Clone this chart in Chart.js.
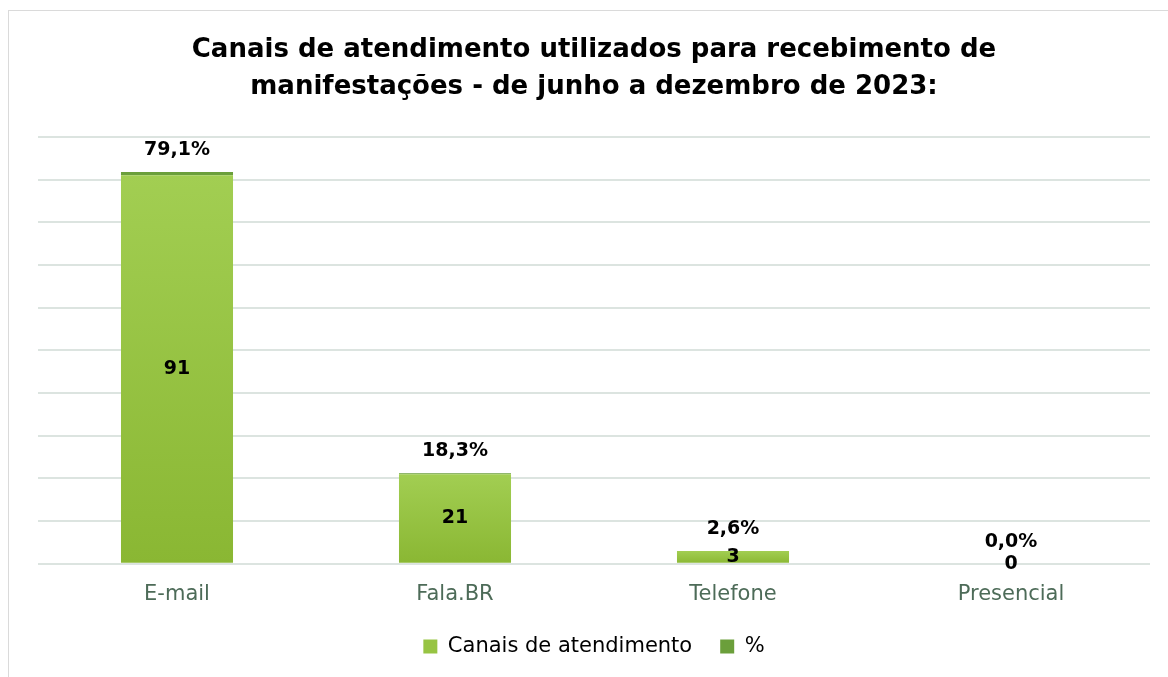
<!DOCTYPE html>
<html>
<head>
<meta charset="utf-8">
<script src="https://cdn.jsdelivr.net/npm/chart.js@4"></script>
<style>
  html, body { margin: 0; padding: 0; background: #fff; overflow: hidden; }
  #wrap { position: relative; width: 1168px; height: 677px; }
  #frame { position: absolute; left: 8px; top: 10px; width: 1200px; height: 700px; border: 1px solid #dadada; pointer-events: none; }
</style>
</head>
<body>
<div id="wrap">
  <canvas id="chart" width="1168" height="677"></canvas>
  <div id="frame"></div>
</div>
<script>
const categories = ['E-mail', 'Fala.BR', 'Telefone', 'Presencial'];
const counts = [91, 21, 3, 0];
const shares = [0.791, 0.183, 0.026, 0.0];
const titleLines = ['Canais de atendimento utilizados para recebimento de', 'manifestações - de junho a dezembro de 2023:'];

const FONT = "'DejaVu Sans', sans-serif";
const textGreen = '#4d6b58';

// vertical gradient per bar, lighter on top
function barFill(ctx) {
  const chart = ctx.chart;
  if (!chart.chartArea || ctx.type !== 'data') return '#97c443';
  const y = chart.scales.y;
  const top = y.getPixelForValue(ctx.parsed.y);
  const base = y.getPixelForValue(0);
  if (!isFinite(top) || base - top < 1) return '#97c443';
  const g = chart.ctx.createLinearGradient(0, top, 0, base);
  g.addColorStop(0, '#a2ce52');
  g.addColorStop(1, '#8ab733');
  return g;
}

const labelPlugin = {
  id: 'barLabels',
  afterDatasetsDraw(chart) {
    const c = chart.ctx;
    const countMeta = chart.getDatasetMeta(0);
    const shareMeta = chart.getDatasetMeta(1);
    c.save();
    c.fillStyle = '#000';
    c.font = 'bold 19px ' + FONT;
    c.textAlign = 'center';
    c.textBaseline = 'middle';
    countMeta.data.forEach((bar, i) => {
      const mid = (bar.y + bar.base) / 2;
      c.fillText(String(counts[i]), bar.x, mid);
    });
    shareMeta.data.forEach((bar, i) => {
      const txt = (shares[i] * 100).toFixed(1).replace('.', ',') + '%';
      c.fillText(txt, bar.x, bar.y - 22);
    });
    c.restore();
  }
};

const ctx = document.getElementById('chart');
const myChart = new Chart(ctx, {
  type: 'bar',
  data: {
    labels: categories,
    datasets: [{
      label: 'Canais de atendimento',
      data: counts,
      backgroundColor: barFill,
      borderWidth: 0,
      barPercentage: 0.403,
      categoryPercentage: 1.0
    }, {
      label: '%',
      data: shares,
      backgroundColor: '#6b9f3b',
      borderWidth: 0,
      barPercentage: 0.403,
      categoryPercentage: 1.0
    }]
  },
  options: {
    responsive: false,
    animation: false,
    layout: { padding: { left: 38, right: 18, top: 0, bottom: 10 } },
    plugins: {
      title: {
        display: true,
        text: titleLines,
        color: '#000',
        font: { family: FONT, size: 26, weight: 'bold', lineHeight: 1.42 },
        padding: { top: 32, bottom: 31 }
      },
      legend: {
        position: 'bottom',
        labels: {
          color: textGreen,
          font: { family: FONT, size: 21 },
          boxWidth: 14,
          boxHeight: 14,
          padding: 28,
          useBorderRadius: false,
          generateLabels(chart) {
            return chart.data.datasets.map((ds, i) => ({
              text: ds.label,
              fillStyle: i === 0 ? '#97c443' : '#6b9f3b',
              strokeStyle: 'transparent',
              lineWidth: 0,
              datasetIndex: i
            }));
          }
        }
      },
      tooltip: { enabled: false }
    },
    scales: {
      x: {
        stacked: true,
        grid: { display: false },
        border: { display: false },
        ticks: { color: textGreen, font: { family: FONT, size: 21 }, padding: 10 },
        afterFit(scale) { scale.height -= 9; }
      },
      y: {
        stacked: true,
        min: 0,
        max: 100,
        ticks: { display: false, stepSize: 10 },
        border: { display: false },
        grid: { color: '#dce4e0', lineWidth: 2, drawTicks: false }
      }
    }
  },
  plugins: [labelPlugin]
});
</script>
</body>
</html>
